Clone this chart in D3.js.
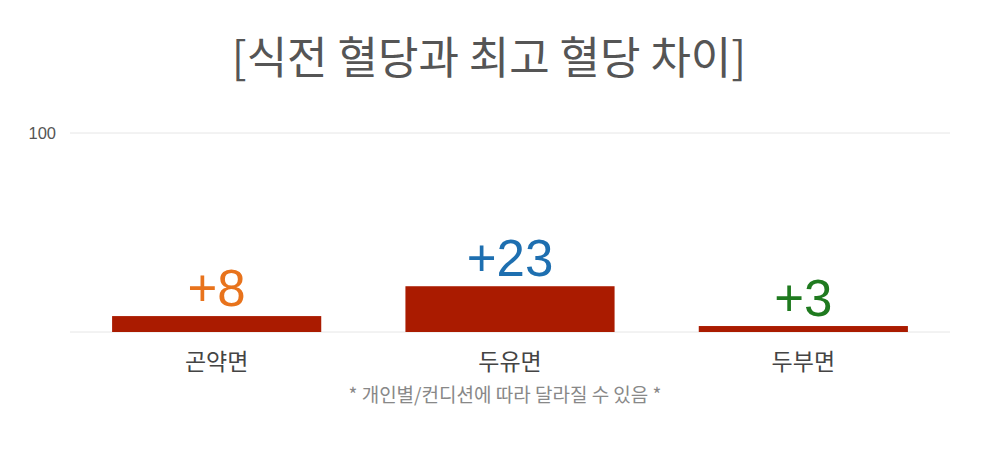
<!DOCTYPE html>
<html><head><meta charset="utf-8">
<script src="https://cdn.jsdelivr.net/npm/d3@7"></script>
<style>
html,body{margin:0;padding:0;background:#fff;}
svg{display:block;font-family:"Noto Sans CJK KR","Noto Sans",sans-serif;}
</style></head>
<body>
<svg id="chart" width="988" height="466"></svg>
<script>
const categories = ["곤약면", "두유면", "두부면"];
const values = [8, 23, 3];
const valueLabels = ["+8", "+23", "+3"];
const labelColors = ["#E8731C", "#1E6FB0", "#1F7A1F"];
const yTicks = [0, 100];
const title = "[식전 혈당과 최고 혈당 차이]";
const footnote = "* 개인별/컨디션에 따라 달라질 수 있음 *";

const svg = d3.select("#chart");
const x = d3.scaleBand().domain(categories).range([70, 950]).paddingInner(0.287).paddingOuter(0.1435);
const y = d3.scaleLinear().domain([0, 100]).range([332, 133]);

// gridlines
svg.append("g").selectAll("line").data(yTicks).join("line")
  .attr("x1", 70).attr("x2", 950)
  .attr("y1", d => y(d)).attr("y2", d => y(d))
  .attr("stroke", "#e6e6e6").attr("stroke-width", 1);

// tick label (only 100 shown)
svg.append("g").selectAll("text").data(yTicks.filter(d => d > 0)).join("text")
  .attr("x", 56).attr("y", d => y(d)).attr("dy", "0.35em")
  .attr("text-anchor", "end").attr("font-size", 16.5).attr("fill", "#555")
  .style("font-family", "'Liberation Sans', Arial, sans-serif")
  .text(d => d);

// bars
svg.append("g").selectAll("rect").data(values).join("rect")
  .attr("x", (d, i) => x(categories[i]))
  .attr("width", x.bandwidth())
  .attr("y", d => y(d))
  .attr("height", d => y(0) - y(d))
  .attr("fill", "#AA1B00");

// value labels
svg.append("g").selectAll("text").data(values).join("text")
  .attr("x", (d, i) => x(categories[i]) + x.bandwidth() / 2)
  .attr("y", d => y(d) - 10)
  .attr("text-anchor", "middle").attr("font-size", 51)
  .style("font-family", "'Liberation Sans', Arial, sans-serif")
  .attr("fill", (d, i) => labelColors[i])
  .text((d, i) => valueLabels[i]);

// category labels
svg.append("g").selectAll("text").data(categories).join("text")
  .attr("x", d => x(d) + x.bandwidth() / 2)
  .attr("y", 370)
  .attr("text-anchor", "middle").attr("font-size", 23).attr("fill", "#444")
  .text(d => d);

// title
svg.append("text").attr("x", 489).attr("y", 74)
  .attr("text-anchor", "middle").attr("font-size", 44).attr("fill", "#555")
  .text(title);

// footnote
svg.append("text").attr("x", 505).attr("y", 402)
  .attr("text-anchor", "middle").attr("font-size", 19).attr("fill", "#888")
  .text(footnote);
</script>
</body></html>
